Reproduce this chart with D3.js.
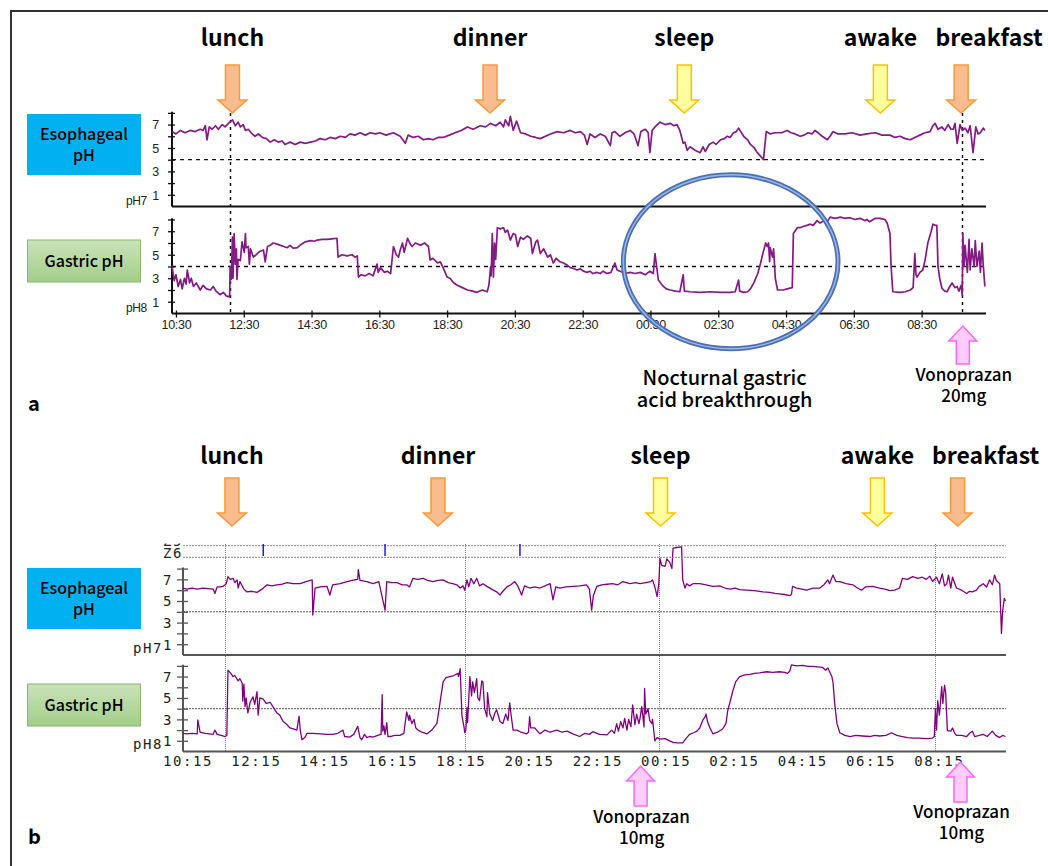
<!DOCTYPE html>
<html>
<head>
<meta charset="utf-8">
<script src="https://cdn.jsdelivr.net/npm/d3@7"></script>
<style>
  body { margin: 0; background: #fff; }
  svg { display: block; }
</style>
</head>
<body>
<div id="chart"></div>
<script>
// pH series, [minutes since midnight of day 1, pH]
var esoA = [[623,6.4],[630,6.2],[638,6.5],[646,6.3],[655,6.5],[664,6.4],[673,6.6],[678,6.5],[682,6.9],[685,5.7],[689,6.8],[694,6.6],[700,6.9],[705,6.6],[712,7.0],[717,6.8],[723,7.1],[730,7.4],[735,6.9],[740,7.2],[744,6.8],[749,7.0],[753,6.5],[758,6.6],[765,6.2],[770,6.0],[776,6.2],[783,5.9],[790,5.8],[797,5.5],[804,5.7],[811,5.5],[818,5.6],[823,5.3],[832,5.5],[841,5.3],[850,5.5],[859,5.4],[868,5.5],[877,5.6],[885,5.8],[894,5.7],[903,5.9],[912,5.8],[921,6.0],[930,5.9],[938,6.2],[947,6.1],[956,6.3],[965,6.1],[974,6.3],[983,6.2],[991,6.3],[1002,6.1],[1015,6.3],[1027,6.0],[1036,5.4],[1041,6.1],[1050,5.9],[1059,6.0],[1068,5.7],[1077,5.8],[1085,5.7],[1094,5.9],[1103,5.9],[1114,6.1],[1124,6.3],[1135,6.5],[1146,6.8],[1156,6.6],[1169,6.9],[1178,6.8],[1187,7.1],[1196,6.9],[1204,7.2],[1210,6.8],[1213,7.4],[1219,6.9],[1222,7.7],[1227,6.5],[1233,7.3],[1240,6.3],[1249,6.2],[1258,6.0],[1267,5.9],[1275,5.8],[1284,6.0],[1293,6.2],[1305,6.4],[1316,6.3],[1328,6.5],[1337,6.3],[1346,6.4],[1353,6.1],[1358,5.3],[1363,6.2],[1372,5.9],[1381,6.2],[1390,6.0],[1399,5.2],[1402,6.3],[1407,6.4],[1416,6.0],[1425,6.3],[1434,6.5],[1441,6.2],[1448,5.2],[1453,6.4],[1461,6.6],[1466,6.3],[1469,4.6],[1473,6.5],[1478,6.8],[1487,7.2],[1496,7.0],[1505,7.1],[1512,6.9],[1517,7.0],[1522,6.5],[1528,5.4],[1531,5.5],[1535,4.8],[1540,5.1],[1549,4.8],[1558,4.6],[1563,5.1],[1567,4.7],[1574,5.3],[1581,5.5],[1586,5.3],[1594,5.7],[1601,5.8],[1606,6.0],[1611,5.9],[1617,6.3],[1622,6.4],[1626,6.7],[1635,6.0],[1642,5.7],[1647,5.3],[1654,5.0],[1659,4.6],[1665,4.3],[1670,4.0],[1675,6.4],[1682,6.2],[1691,6.3],[1702,6.3],[1712,6.5],[1719,6.3],[1726,6.2],[1735,6.0],[1742,6.1],[1749,6.3],[1756,6.2],[1761,6.5],[1767,6.3],[1774,6.0],[1783,5.7],[1788,6.0],[1793,6.4],[1802,6.2],[1814,6.2],[1827,6.3],[1841,6.1],[1853,6.2],[1868,6.3],[1880,6.1],[1894,6.1],[1903,5.9],[1912,6.0],[1921,5.8],[1930,5.7],[1938,5.9],[1947,6.1],[1956,6.3],[1965,6.4],[1970,6.9],[1974,7.1],[1979,6.6],[1986,6.8],[1991,6.5],[1997,7.0],[2002,6.6],[2006,6.6],[2009,7.1],[2013,5.4],[2018,7.0],[2022,6.5],[2027,6.7],[2032,6.3],[2036,6.9],[2041,4.6],[2046,6.8],[2050,6.2],[2054,6.3],[2059,6.7],[2062,6.5]];

var gasA = [[623,4.0],[627,2.8],[630,3.3],[634,2.3],[638,2.9],[641,2.1],[645,3.0],[648,2.5],[650,3.7],[654,2.6],[657,3.0],[661,2.3],[666,2.6],[673,2.0],[678,2.4],[684,2.1],[691,2.0],[696,2.3],[701,1.9],[708,1.6],[714,1.8],[719,1.5],[725,1.4],[726,4.0],[728,2.9],[730,6.5],[731,3.0],[733,6.8],[735,4.2],[737,5.5],[738,2.9],[740,4.6],[744,4.5],[747,6.1],[751,5.2],[753,6.8],[754,5.6],[758,5.7],[760,4.2],[762,5.5],[767,4.8],[772,5.0],[779,5.3],[785,5.4],[788,4.4],[792,5.7],[797,5.8],[802,6.0],[809,5.9],[815,5.8],[821,5.7],[827,5.6],[832,5.8],[838,5.55],[845,5.6],[852,5.9],[859,6.1],[868,6.2],[875,6.15],[880,6.25],[889,6.3],[898,6.3],[906,6.35],[915,6.4],[917,4.8],[924,5.0],[933,4.9],[942,5.0],[947,4.8],[951,4.9],[953,3.1],[958,3.3],[965,3.2],[972,3.4],[979,3.2],[986,4.2],[988,3.5],[992,3.9],[999,3.5],[1004,3.6],[1010,3.4],[1015,5.7],[1020,5.0],[1024,4.8],[1027,5.4],[1031,6.0],[1034,5.2],[1040,6.4],[1045,5.9],[1048,5.7],[1054,6.0],[1063,5.8],[1070,6.0],[1077,5.7],[1080,4.55],[1085,4.7],[1093,4.3],[1098,4.4],[1103,3.9],[1110,3.1],[1115,3.0],[1122,2.6],[1128,2.4],[1137,2.2],[1146,2.0],[1155,1.9],[1163,1.8],[1172,2.0],[1181,1.85],[1184,2.4],[1187,4.0],[1188,3.2],[1190,6.8],[1192,3.1],[1194,6.0],[1196,4.6],[1199,7.3],[1204,7.2],[1210,7.3],[1213,6.9],[1217,7.1],[1222,6.25],[1227,6.8],[1231,6.7],[1235,5.7],[1240,6.5],[1245,6.3],[1252,6.6],[1258,6.4],[1261,5.1],[1267,6.1],[1270,6.25],[1275,5.1],[1281,5.5],[1288,4.8],[1293,5.0],[1298,4.3],[1303,4.7],[1310,4.4],[1316,4.3],[1323,4.1],[1328,3.9],[1333,3.85],[1340,3.7],[1346,3.8],[1351,3.6],[1358,3.5],[1363,3.6],[1368,3.4],[1375,3.5],[1381,3.4],[1386,3.6],[1393,3.4],[1400,3.5],[1407,4.3],[1411,3.7],[1416,3.6],[1425,3.4],[1434,3.5],[1443,3.4],[1452,3.5],[1461,3.3],[1469,3.6],[1475,3.4],[1478,5.1],[1484,2.85],[1491,2.4],[1498,2.1],[1505,2.0],[1514,1.9],[1522,1.85],[1528,3.3],[1530,1.9],[1540,1.85],[1558,1.8],[1576,1.85],[1594,1.8],[1611,1.8],[1620,1.85],[1626,2.85],[1628,1.9],[1635,1.8],[1642,1.85],[1647,2.1],[1653,2.6],[1660,3.4],[1665,4.3],[1670,5.3],[1674,6.0],[1677,5.7],[1679,6.0],[1681,4.4],[1682,5.6],[1686,4.8],[1688,5.5],[1691,3.0],[1695,2.0],[1700,2.0],[1705,2.0],[1712,2.1],[1721,2.2],[1723,6.8],[1730,7.3],[1735,7.3],[1740,7.4],[1747,7.5],[1753,7.6],[1758,7.5],[1765,7.9],[1770,7.7],[1777,7.9],[1783,7.8],[1788,8.2],[1797,8.1],[1806,8.2],[1814,8.1],[1823,8.15],[1832,8.0],[1841,8.1],[1850,7.9],[1853,8.0],[1858,7.8],[1868,8.1],[1876,8.1],[1885,8.0],[1889,7.7],[1894,6.8],[1896,4.0],[1899,1.85],[1912,1.8],[1921,1.85],[1930,2.0],[1935,2.2],[1938,5.1],[1940,3.3],[1942,3.1],[1947,3.5],[1952,3.7],[1956,4.5],[1961,6.0],[1967,7.0],[1970,7.6],[1974,7.5],[1977,7.5],[1979,4.0],[1982,3.0],[1986,2.15],[1991,1.9],[1995,1.85],[2000,2.3],[2004,2.6],[2009,2.2],[2013,2.3],[2016,1.9],[2020,2.4],[2022,1.5],[2023,6.8],[2025,4.0],[2027,5.8],[2031,3.5],[2034,6.3],[2036,3.7],[2039,5.5],[2043,4.0],[2045,6.2],[2048,4.0],[2052,5.3],[2054,3.5],[2057,6.0],[2059,4.2],[2062,2.3]];

var esoB = [[607,6.2],[614,6.1],[623,6.2],[632,6.1],[642,6.2],[651,6.15],[660,6.1],[663,5.7],[667,6.3],[672,6.3],[677,6.35],[683,6.6],[686,7.25],[690,7.0],[695,7.1],[698,6.7],[702,6.95],[704,6.2],[707,6.8],[711,6.4],[714,6.1],[719,5.85],[728,5.9],[737,5.8],[746,6.1],[755,6.5],[763,6.4],[772,6.5],[781,6.55],[790,6.7],[800,6.6],[813,6.6],[823,6.8],[834,6.95],[835,3.7],[839,6.2],[848,6.3],[860,6.35],[865,5.55],[870,6.5],[883,6.6],[895,6.8],[904,6.9],[914,7.0],[915,7.9],[918,6.9],[930,6.8],[941,6.6],[951,6.8],[962,4.15],[965,6.8],[974,6.7],[983,6.7],[992,6.5],[1000,6.5],[1005,6.3],[1011,7.1],[1020,7.0],[1029,7.1],[1037,6.9],[1046,6.8],[1055,6.9],[1064,6.95],[1073,6.7],[1081,6.6],[1088,6.5],[1094,6.2],[1099,6.4],[1102,6.0],[1106,6.95],[1109,6.3],[1113,7.1],[1118,6.6],[1123,7.1],[1128,6.4],[1134,6.6],[1141,6.35],[1149,6.1],[1158,5.85],[1164,5.55],[1169,5.9],[1176,6.3],[1183,6.5],[1190,6.8],[1195,6.4],[1202,5.55],[1207,6.4],[1216,6.2],[1225,6.3],[1234,6.2],[1243,6.4],[1252,6.6],[1257,5.1],[1262,6.3],[1269,6.2],[1280,6.3],[1292,6.35],[1304,6.4],[1316,6.5],[1321,6.1],[1325,4.15],[1328,5.5],[1334,6.35],[1343,6.5],[1352,6.55],[1362,6.6],[1371,6.5],[1380,6.8],[1392,6.6],[1402,6.7],[1410,6.6],[1420,6.7],[1429,6.8],[1432,6.95],[1436,6.3],[1440,5.4],[1443,6.6],[1445,8.95],[1448,8.3],[1454,8.2],[1457,8.9],[1462,8.6],[1466,8.0],[1468,9.9],[1475,9.95],[1483,10.0],[1485,6.95],[1489,6.2],[1492,6.6],[1497,6.4],[1503,6.6],[1515,6.6],[1526,6.5],[1538,6.35],[1550,6.4],[1559,6.2],[1568,6.1],[1577,6.2],[1585,6.05],[1597,6.0],[1611,5.95],[1626,5.85],[1638,5.8],[1647,5.7],[1655,5.65],[1664,5.6],[1673,5.5],[1676,5.6],[1678,6.35],[1685,6.2],[1694,6.1],[1703,6.0],[1714,6.2],[1726,6.2],[1733,6.5],[1740,6.95],[1743,6.6],[1749,7.4],[1754,6.8],[1761,6.8],[1772,6.6],[1784,6.5],[1792,6.2],[1799,6.0],[1806,6.3],[1819,6.35],[1831,6.2],[1840,6.1],[1849,5.95],[1857,6.0],[1866,6.2],[1871,7.1],[1880,7.0],[1889,7.25],[1898,7.1],[1906,7.2],[1913,7.0],[1919,7.3],[1924,6.8],[1931,7.2],[1936,6.6],[1941,7.5],[1945,6.4],[1949,6.6],[1952,7.4],[1956,6.2],[1959,7.2],[1966,6.2],[1975,6.0],[1984,5.7],[1989,5.9],[1994,5.85],[2001,6.0],[2006,6.35],[2013,6.6],[2019,6.3],[2024,6.95],[2029,6.5],[2033,7.4],[2036,6.9],[2042,6.6],[2045,2.0],[2047,4.0],[2050,5.25],[2052,5.0]];

var gasB = [[607,1.7],[614,1.65],[623,1.7],[632,1.65],[633,2.95],[637,1.8],[646,1.7],[653,1.65],[660,1.6],[663,2.0],[667,1.6],[674,1.5],[681,1.4],[684,1.5],[686,7.6],[691,7.3],[695,7.0],[698,7.1],[704,6.6],[707,6.8],[711,6.4],[712,4.7],[714,6.3],[716,4.2],[718,5.0],[721,3.6],[725,4.6],[730,5.1],[733,4.4],[737,5.6],[739,3.4],[742,5.0],[748,4.9],[753,4.5],[760,4.6],[765,4.2],[772,3.6],[777,3.4],[783,2.8],[788,2.6],[795,2.2],[802,2.1],[807,2.0],[811,3.3],[813,2.0],[816,1.1],[821,1.3],[825,1.7],[835,1.7],[848,1.65],[860,1.6],[870,1.6],[879,1.7],[888,2.0],[891,1.4],[900,1.35],[907,1.6],[914,2.35],[918,1.3],[921,1.1],[926,1.6],[930,1.3],[935,1.4],[941,1.35],[949,1.5],[955,1.6],[957,5.3],[958,1.9],[960,2.4],[962,1.6],[965,2.7],[967,1.4],[971,1.4],[979,1.5],[988,1.5],[995,1.7],[1000,3.7],[1004,2.9],[1005,3.4],[1009,2.6],[1013,3.0],[1016,2.2],[1020,2.0],[1027,1.8],[1036,1.65],[1044,2.0],[1053,2.6],[1058,4.35],[1064,6.5],[1069,6.9],[1076,7.0],[1083,7.1],[1090,7.3],[1091,7.0],[1094,7.75],[1097,3.4],[1101,2.2],[1102,1.75],[1104,2.0],[1106,4.1],[1107,2.7],[1111,7.0],[1114,5.2],[1116,6.5],[1119,5.5],[1123,6.8],[1125,5.0],[1128,4.75],[1132,6.6],[1134,6.5],[1137,4.0],[1141,3.25],[1142,5.5],[1146,3.5],[1151,2.9],[1155,3.6],[1158,3.9],[1164,2.8],[1169,2.6],[1174,3.5],[1178,2.9],[1181,4.55],[1183,3.6],[1187,2.0],[1194,2.0],[1201,1.8],[1211,1.65],[1214,1.8],[1216,3.25],[1218,2.2],[1225,2.2],[1234,1.65],[1243,2.0],[1252,1.8],[1264,2.0],[1273,1.8],[1282,1.9],[1292,1.65],[1304,1.4],[1313,1.7],[1321,1.6],[1327,1.85],[1339,1.6],[1352,1.55],[1360,2.0],[1365,1.7],[1369,2.6],[1372,1.9],[1376,2.8],[1380,2.2],[1383,3.1],[1387,2.0],[1390,3.0],[1394,2.3],[1397,4.35],[1401,2.5],[1404,3.5],[1408,2.6],[1410,3.1],[1413,4.2],[1417,2.3],[1418,5.9],[1420,3.5],[1424,4.0],[1427,2.9],[1431,2.6],[1432,3.0],[1436,1.0],[1440,1.3],[1445,1.15],[1454,1.2],[1462,1.0],[1468,0.85],[1476,0.8],[1485,0.8],[1490,1.15],[1497,1.6],[1504,1.75],[1510,1.9],[1515,2.2],[1520,2.9],[1524,3.2],[1526,3.5],[1529,2.7],[1533,2.2],[1538,1.65],[1546,1.8],[1555,2.1],[1561,2.6],[1564,3.8],[1568,4.6],[1573,5.65],[1578,6.5],[1585,7.0],[1594,7.15],[1603,7.2],[1611,7.3],[1620,7.35],[1633,7.45],[1643,7.4],[1655,7.45],[1664,7.4],[1669,7.3],[1673,7.5],[1676,8.1],[1685,8.0],[1696,8.05],[1705,7.95],[1714,7.95],[1722,7.9],[1731,7.85],[1736,7.6],[1740,7.8],[1743,7.45],[1747,7.0],[1749,6.5],[1752,4.5],[1756,2.6],[1761,1.75],[1770,1.5],[1779,1.4],[1789,1.5],[1801,1.45],[1814,1.4],[1822,1.5],[1831,1.45],[1842,1.5],[1852,1.75],[1861,1.5],[1871,1.4],[1880,1.3],[1889,1.25],[1901,1.25],[1913,1.2],[1924,1.25],[1927,1.4],[1929,4.0],[1931,2.0],[1933,4.75],[1936,3.4],[1940,6.05],[1942,4.5],[1945,6.2],[1947,5.5],[1950,1.95],[1956,1.9],[1959,2.2],[1963,1.7],[1966,1.5],[1975,1.5],[1984,1.4],[1989,1.7],[1994,1.9],[1998,1.4],[2006,1.5],[2013,1.6],[2020,1.4],[2029,1.9],[2035,1.5],[2042,1.3],[2047,1.5],[2052,1.4]];

// axis ticks
var timeTicksA = ["10:30","12:30","14:30","16:30","18:30","20:30","22:30","00:30","02:30","04:30","06:30","08:30"];
var timeTicksB = ["10:15","12:15","14:15","16:15","18:15","20:15","22:15","00:15","02:15","04:15","06:15","08:15"];
var phTicks = [1, 2, 3, 4, 5, 6, 7, 8];

// events
var eventsA = [
  {label: "lunch", time: "12:10", kind: "meal"},
  {label: "dinner", time: "19:46", kind: "meal"},
  {label: "sleep", time: "01:30", kind: "rest"},
  {label: "awake", time: "07:17", kind: "rest"},
  {label: "breakfast", time: "09:40", kind: "meal"}
];
var eventsB = [
  {label: "lunch", time: "11:33", kind: "meal"},
  {label: "dinner", time: "17:35", kind: "meal"},
  {label: "sleep", time: "00:06", kind: "rest"},
  {label: "awake", time: "06:27", kind: "rest"},
  {label: "breakfast", time: "08:48", kind: "meal"}
];
var markLinesA = ["12:05", "09:42"];
var markLinesB = ["11:21", "18:23", "00:03", "08:09"];
var sensorMarksB = ["12:28", "16:02", "19:59"];
var dosesA = [{time: "09:43", lines: ["Vonoprazan", "20mg"]}];
var dosesB = [{time: "23:31", lines: ["Vonoprazan", "10mg"]}, {time: "08:53", lines: ["Vonoprazan", "10mg"]}];
var breakthrough = {time: "02:52", ph: 4.4, halfMinutes: 190, halfPh: 7.4, lines: ["Nocturnal gastric", "acid breakthrough"]};

function clock(s) {
  var p = s.split(":").map(Number);
  return p[0] * 60 + p[1] + (p[0] < 10 ? 1440 : 0);
}
function toDate(m) { return new Date(2000, 0, 1, 0, m); }

var svg = d3.select("#chart").append("svg")
  .attr("width", 1048).attr("height", 866);

var defs = svg.append("defs");
var grad = defs.append("linearGradient").attr("id", "greenGrad")
  .attr("x1", 0).attr("y1", 0).attr("x2", 0).attr("y2", 1);
grad.append("stop").attr("offset", "0%").attr("stop-color", "#c9e3b9");
grad.append("stop").attr("offset", "100%").attr("stop-color", "#a3ce89");

// outer frame
svg.append("path").attr("d", "M11,880 L11,11 L1060,11")
  .attr("fill", "none").attr("stroke", "#333").attr("stroke-width", 2);

var labelFont = "'Noto Sans CJK JP', 'Noto Sans', sans-serif";
// the breakfast caption sits right of its arrow so it clears "awake"
var labelNudge = {breakfast: 28};

function arrowPath(cx, yFrom, yTip, sw, hw, hl) {
  var dir = yTip > yFrom ? 1 : -1;
  var yb = yTip - dir * hl;
  return "M" + (cx - sw) + "," + yFrom + "L" + (cx + sw) + "," + yFrom +
    "L" + (cx + sw) + "," + yb + "L" + (cx + hw) + "," + yb + "L" + cx + "," + yTip +
    "L" + (cx - hw) + "," + yb + "L" + (cx - sw) + "," + yb + "Z";
}

// two-line caption as one text block
function block(g, x, y, lines, gap, size, weight) {
  var t = g.append("text").attr("x", x).attr("y", y).attr("text-anchor", "middle")
    .style("font-family", labelFont).style("font-size", size).style("font-weight", weight);
  lines.forEach(function(s, i) {
    t.append("tspan").attr("x", x).attr("dy", i === 0 ? "0.35em" : gap).text(s);
  });
  return t;
}

function drawPanel(cfg) {
  var g = svg.append("g");
  var x = d3.scaleTime().domain([toDate(cfg.dom[0]), toDate(cfg.dom[1])]).range([cfg.xr[0], cfg.xr[1]]);
  var yE = d3.scaleLinear().domain([0, 8.1]).range(cfg.esoY);
  var yG = d3.scaleLinear().domain([0, 8.1]).range(cfg.gasY);
  var st = cfg.style;

  // label boxes
  g.append("rect").attr("x", 27).attr("y", cfg.esoBox[0]).attr("width", 114).attr("height", cfg.esoBox[1] - cfg.esoBox[0])
    .attr("fill", "#00b0f0");
  block(g, 84, cfg.esoBox[0] + (cfg.esoBox[1] - cfg.esoBox[0]) / 2 - 10, ["Esophageal", "pH"], 21, "16px", 500);
  g.append("rect").attr("x", 27.5).attr("y", cfg.gasBox[0]).attr("width", 113).attr("height", cfg.gasBox[1] - cfg.gasBox[0])
    .attr("fill", "url(#greenGrad)").attr("stroke", "#86b86e").attr("stroke-width", 1);
  block(g, 84, (cfg.gasBox[0] + cfg.gasBox[1]) / 2, ["Gastric pH"], 0, "16px", 500);

  // pH 4 reference lines
  [yE, yG].forEach(function(ys) {
    g.append("line").attr("x1", cfg.xr[0]).attr("x2", cfg.xr[1])
      .attr("y1", ys(4)).attr("y2", ys(4))
      .attr("stroke", st.refColor).attr("stroke-width", st.refWidth).attr("stroke-dasharray", st.refDash);
  });

  // event lines
  cfg.markLines.forEach(function(t) {
    var xx = Math.round(x(toDate(clock(t)))) + 0.5;
    g.append("line").attr("x1", xx).attr("x2", xx).attr("y1", cfg.markTop).attr("y2", yG(0))
      .attr("stroke", st.markColor).attr("stroke-width", st.markWidth).attr("stroke-dasharray", st.markDash);
  });

  // y axes
  [[yE, cfg.chanE], [yG, cfg.chanG]].forEach(function(p) {
    var ys = p[0];
    var ax = g.append("g").attr("transform", "translate(" + cfg.xr[0] + ",0)")
      .call(d3.axisLeft(ys).tickValues(phTicks).tickFormat(function(d) { return d % 2 ? d : ""; }).tickSizeOuter(0));
    ax.select(".domain").remove();
    ax.selectAll(".tick line").attr("x1", -st.tickIn).attr("x2", st.tickOut)
      .attr("stroke", st.axisColor).attr("stroke-width", 1.3);
    ax.selectAll(".tick text").attr("x", st.yLabelX).attr("dy", "0.35em")
      .style("font-family", st.tickFont).style("font-size", st.tickSize).style("letter-spacing", st.tickSpacing)
      .attr("fill", "#222");
    g.append("line").attr("x1", cfg.xr[0]).attr("x2", cfg.xr[0]).attr("y1", ys(0)).attr("y2", ys(8.1))
      .attr("stroke", st.axisColor).attr("stroke-width", 2);
    g.append("line").attr("x1", cfg.xr[0]).attr("x2", cfg.xr[1]).attr("y1", ys(0)).attr("y2", ys(0))
      .attr("stroke", st.axisColor).attr("stroke-width", 2);
    g.append("text").attr("x", cfg.xr[0] + st.chanX).attr("y", ys(0) + st.chanDy)
      .attr("text-anchor", "end").attr("dy", "0.35em")
      .style("font-family", st.tickFont).style("font-size", st.chanSize).style("letter-spacing", st.tickSpacing)
      .attr("fill", "#222").text(p[1]);
  });

  // x axis
  var xa = g.append("g").attr("transform", "translate(0," + yG(0) + ")")
    .call(d3.axisBottom(x).tickValues(cfg.ticks.map(function(s) { return toDate(clock(s)); }))
      .tickFormat(d3.timeFormat("%H:%M")).tickSizeOuter(0));
  xa.select(".domain").remove();
  xa.selectAll(".tick line").attr("y1", -st.xTickIn).attr("y2", st.xTickOut).attr("stroke", st.axisColor).attr("stroke-width", 1.3);
  xa.selectAll(".tick text").attr("y", st.xLabelY).attr("dy", "0.35em")
    .style("font-family", st.tickFont).style("font-size", st.tickSize).style("letter-spacing", st.tickSpacing)
    .attr("fill", "#222");

  // traces
  var lineE = d3.line().x(function(d) { return x(toDate(d[0])); }).y(function(d) { return yE(d[1]); });
  var lineG = d3.line().x(function(d) { return x(toDate(d[0])); }).y(function(d) { return yG(d[1]); });
  g.append("path").datum(cfg.eso).attr("d", lineE).attr("fill", "none")
    .attr("stroke", st.trace).attr("stroke-width", st.traceWidth).attr("stroke-linejoin", "round");
  g.append("path").datum(cfg.gas).attr("d", lineG).attr("fill", "none")
    .attr("stroke", st.trace).attr("stroke-width", st.traceWidth).attr("stroke-linejoin", "round");

  // event arrows + labels
  cfg.events.forEach(function(e) {
    var cx = x(toDate(clock(e.time)));
    var meal = e.kind === "meal";
    g.append("path").attr("d", arrowPath(cx, cfg.arrowY[0], cfg.arrowY[1], 7, 14.5, 13))
      .attr("fill", meal ? "#f9bc8e" : "#ffff9e").attr("stroke", meal ? "#f79a3c" : "#ffc000").attr("stroke-width", 1.5);
    g.append("text").attr("x", cx + (labelNudge[e.label] || 0)).attr("y", cfg.labelY)
      .attr("text-anchor", "middle").attr("dy", "0.35em")
      .style("font-family", labelFont).style("font-size", "23px").style("font-weight", 700).text(e.label);
  });

  // dose arrows
  cfg.doses.forEach(function(d, i) {
    var cx = x(toDate(clock(d.time)));
    var a = cfg.doseArrow[i];
    g.append("path").attr("d", arrowPath(cx, a[1], a[0], 6.5, 14, 15))
      .attr("fill", "#ffccff").attr("stroke", "#ff66ff").attr("stroke-width", 1.5);
    block(g, cx + 1, a[2], d.lines, 21, "17px", 500);
  });

  g.append("text").attr("x", 28).attr("y", cfg.letterY).attr("dy", "0.35em")
    .style("font-family", labelFont).style("font-size", "20px").style("font-weight", 700).text(cfg.letter);

  return {x: x, yE: yE, yG: yG, g: g};
}

var pa = drawPanel({
  letter: "a", letterY: 404,
  dom: [623, 2064], xr: [172, 986], esoY: [206.5, 111.7], gasY: [313.5, 218.3],
  esoBox: [114, 175], gasBox: [240, 282],
  eso: esoA, gas: gasA, ticks: timeTicksA, events: eventsA, markLines: markLinesA, markTop: 113,
  chanE: "pH7", chanG: "pH8",
  arrowY: [65, 113], labelY: 38,
  doses: dosesA, doseArrow: [[326, 364, 375]],
  style: {
    refColor: "#111", refWidth: 1.3, refDash: "4,4",
    markColor: "#111", markWidth: 1.5, markDash: "3,4",
    axisColor: "#111", tickIn: 4, tickOut: 3, xTickIn: 3, xTickOut: 4,
    yLabelX: -13, xLabelY: 11, tickFont: "'Liberation Sans', Arial, sans-serif", tickSize: "12.5px", tickSpacing: "-0.3px",
    chanX: -25, chanDy: -6, chanSize: "12px",
    trace: "#851a86", traceWidth: 1.7
  }
});

var pb = drawPanel({
  letter: "b", letterY: 837,
  dom: [607, 2053], xr: [183, 1006], esoY: [655, 567.5], gasY: [751.5, 664.8],
  esoBox: [568, 629], gasBox: [684, 726],
  eso: esoB, gas: gasB, ticks: timeTicksB, events: eventsB, markLines: markLinesB, markTop: 544,
  chanE: "pH7", chanG: "pH8",
  arrowY: [478, 526], labelY: 456,
  doses: dosesB, doseArrow: [[766, 806, 817], [762, 802, 812]],
  style: {
    refColor: "#555", refWidth: 1, refDash: "2,1",
    markColor: "#777", markWidth: 1, markDash: "1,1",
    axisColor: "#555", tickIn: 6, tickOut: 5, xTickIn: 0, xTickOut: 0,
    yLabelX: -10, xLabelY: 10, tickFont: "'DejaVu Sans Mono', monospace", tickSize: "14px", tickSpacing: "1.6px",
    chanX: -20, chanDy: -7, chanSize: "14px",
    trace: "#800080", traceWidth: 1.3
  }
});

// panel b: impedance strip above the esophageal channel
[545.7, 557.3].forEach(function(yy) {
  pb.g.append("line").attr("x1", 183).attr("x2", 1006).attr("y1", yy).attr("y2", yy)
    .attr("stroke", "#888").attr("stroke-width", 1).attr("stroke-dasharray", "2,1");
});
sensorMarksB.forEach(function(t) {
  var xx = pb.x(toDate(clock(t)));
  pb.g.append("line").attr("x1", xx).attr("x2", xx).attr("y1", 544).attr("y2", 556)
    .attr("stroke", "#1a1aff").attr("stroke-width", 1.5);
});
defs.append("clipPath").attr("id", "zclip").append("rect").attr("x", 150).attr("y", 543.5).attr("width", 40).attr("height", 4);
pb.g.append("text").attr("x", 183).attr("y", 541).attr("text-anchor", "end").attr("dy", "0.35em")
  .attr("clip-path", "url(#zclip)").attr("fill", "#222")
  .style("font-family", "'DejaVu Sans Mono', monospace").style("font-size", "14px").style("letter-spacing", "1.6px").text("Z5");
pb.g.append("text").attr("x", 183).attr("y", 553).attr("text-anchor", "end").attr("dy", "0.35em").attr("fill", "#222")
  .style("font-family", "'DejaVu Sans Mono', monospace").style("font-size", "14px").style("letter-spacing", "1.6px").text("Z6");

// panel a: nocturnal acid breakthrough ellipse
var ecx = pa.x(toDate(clock(breakthrough.time)));
var erx = pa.x(toDate(clock(breakthrough.time) + breakthrough.halfMinutes)) - ecx;
var ecy = pa.yG(breakthrough.ph);
var ery = pa.yG(0) - pa.yG(breakthrough.halfPh);
pa.g.append("ellipse").attr("cx", ecx).attr("cy", ecy).attr("rx", erx).attr("ry", ery)
  .attr("fill", "none").attr("stroke", "#4a70b6").attr("stroke-width", 5);
pa.g.append("ellipse").attr("cx", ecx).attr("cy", ecy).attr("rx", erx).attr("ry", ery)
  .attr("fill", "none").attr("stroke", "#9fb7e0").attr("stroke-width", 1.5);
block(pa.g, ecx - 6, 378, breakthrough.lines, 22, "20px", 500);
</script>
</body>
</html>
